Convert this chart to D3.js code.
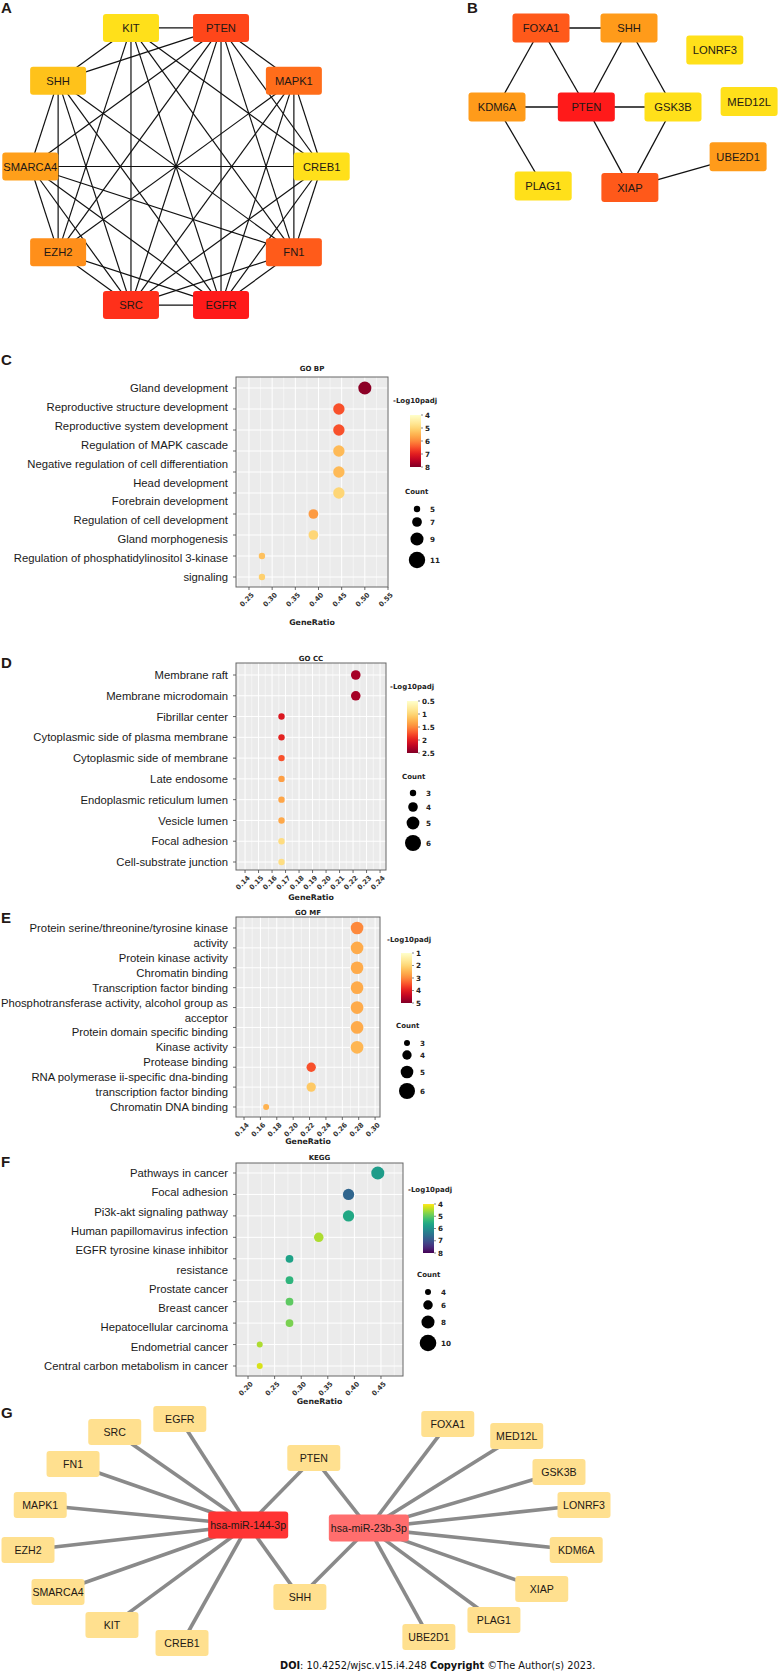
<!DOCTYPE html>
<html><head><meta charset="utf-8">
<script src="https://cdn.jsdelivr.net/npm/d3@7"></script>
<style>body{margin:0;background:#fff}svg{display:block}</style>
</head><body>
<svg id="fig" width="781" height="1675"></svg>
<script>
// ================= DATA =================
// Panel A – PPI hub network (clockwise from top-left)
const aGenes = ["KIT","PTEN","MAPK1","CREB1","FN1","EGFR","SRC","EZH2","SMARCA4","SHH"];
const aScore = [0, 7.8, 5.8, 0, 6.7, 10, 8.9, 4.1, 3.3, 1.5];
const aEdges = [
 ["KIT","PTEN"],["KIT","SHH"],["KIT","SRC"],["KIT","EGFR"],["KIT","FN1"],["KIT","CREB1"],["KIT","EZH2"],
 ["PTEN","SHH"],["PTEN","MAPK1"],["PTEN","CREB1"],["PTEN","FN1"],["PTEN","EGFR"],["PTEN","SRC"],["PTEN","EZH2"],["PTEN","SMARCA4"],
 ["MAPK1","CREB1"],["MAPK1","FN1"],["MAPK1","EGFR"],["MAPK1","SRC"],["MAPK1","EZH2"],
 ["CREB1","FN1"],["CREB1","EGFR"],["CREB1","SRC"],["CREB1","SMARCA4"],
 ["FN1","EGFR"],["FN1","SRC"],["FN1","SMARCA4"],["FN1","SHH"],
 ["EGFR","SRC"],["EGFR","EZH2"],["EGFR","SMARCA4"],["EGFR","SHH"],
 ["SRC","EZH2"],["SRC","SMARCA4"],["SRC","SHH"],
 ["EZH2","SMARCA4"],["EZH2","SHH"],["SMARCA4","SHH"]
];

// Panel B – network
const bGenes = ["FOXA1","SHH","LONRF3","KDM6A","PTEN","GSK3B","MED12L","UBE2D1","PLAG1","XIAP"];
const bScore = [6.8, 3.5, 0, 3.5, 10, 0, 0, 3.5, 0, 6.8];
const bEdges = [["FOXA1","SHH"],["FOXA1","KDM6A"],["FOXA1","PTEN"],["SHH","PTEN"],["SHH","GSK3B"],
 ["KDM6A","PTEN"],["PTEN","GSK3B"],["KDM6A","PLAG1"],["PTEN","XIAP"],["GSK3B","XIAP"],["XIAP","UBE2D1"]];

// Panel C – GO BP
const cTerms = [["Gland development"],["Reproductive structure development"],["Reproductive system development"],
 ["Regulation of MAPK cascade"],["Negative regulation of cell differentiation"],["Head development"],
 ["Forebrain development"],["Regulation of cell development"],["Gland morphogenesis"],
 ["Regulation of phosphatidylinositol 3-kinase","signaling"]];
const cRatio = [0.500,0.444,0.444,0.444,0.444,0.444,0.389,0.389,0.278,0.278];
const cCount = [9,8,8,8,8,8,7,7,5,5];
const cPadj  = [7.9,6.5,6.5,5.4,5.4,5.0,5.8,5.0,5.3,5.1];
const cTicks = [0.25,0.30,0.35,0.40,0.45,0.50,0.55];
const cColorTicks = [4,5,6,7,8];
const cSizeBreaks = [5,7,9,11];

// Panel D – GO CC
const dTerms = [["Membrane raft"],["Membrane microdomain"],["Fibrillar center"],["Cytoplasmic side of plasma membrane"],
 ["Cytoplasmic side of membrane"],["Late endosome"],["Endoplasmic reticulum lumen"],["Vesicle lumen"],
 ["Focal adhesion"],["Cell-substrate junction"]];
const dRatio = [0.222,0.222,0.167,0.167,0.167,0.167,0.167,0.167,0.167,0.167];
const dCount = [4,4,3,3,3,3,3,3,3,3];
const dPadj  = [2.34,2.34,2.05,1.98,1.75,1.38,1.34,1.32,0.94,0.92];
const dTicks = [0.14,0.15,0.16,0.17,0.18,0.19,0.20,0.21,0.22,0.23,0.24];
const dColorTicks = [0.5,1,1.5,2,2.5];
const dSizeBreaks = [3,4,5,6];

// Panel E – GO MF
const eTerms = [["Protein serine/threonine/tyrosine kinase","activity"],["Protein kinase activity"],["Chromatin binding"],
 ["Transcription factor binding"],["Phosphotransferase activity, alcohol group as","acceptor"],
 ["Protein domain specific binding"],["Kinase activity"],["Protease binding"],
 ["RNA polymerase ii-specific dna-binding","transcription factor binding"],["Chromatin DNA binding"]];
const eRatio = [0.278,0.278,0.278,0.278,0.278,0.278,0.278,0.222,0.222,0.167];
const eCount = [5,5,5,5,5,5,5,4,4,3];
const ePadj  = [3.0,2.6,2.6,2.6,2.6,2.6,2.45,3.5,2.2,2.5];
const eTicks = [0.14,0.16,0.18,0.20,0.22,0.24,0.26,0.28,0.30];
const eColorTicks = [1,2,3,4,5];
const eSizeBreaks = [3,4,5,6];

// Panel F – KEGG
const fTerms = [["Pathways in cancer"],["Focal adhesion"],["Pi3k-akt signaling pathway"],["Human papillomavirus infection"],
 ["EGFR tyrosine kinase inhibitor","resistance"],["Prostate cancer"],["Breast cancer"],["Hepatocellular carcinoma"],
 ["Endometrial cancer"],["Central carbon metabolism in cancer"]];
const fRatio = [0.444,0.389,0.389,0.333,0.278,0.278,0.278,0.278,0.222,0.222];
const fCount = [8,7,7,6,5,5,5,5,4,4];
const fPadj  = [5.8,6.7,5.6,4.5,5.7,5.4,5.0,4.8,4.5,4.25];
const fTicks = [0.20,0.25,0.30,0.35,0.40,0.45];
const fColorTicks = [4,5,6,7,8];
const fSizeBreaks = [4,6,8,10];

// Panel G – miRNA–mRNA network
const gMirs = ["hsa-miR-144-3p","hsa-miR-23b-3p"];
const gTargets = ["EGFR","SRC","FN1","PTEN","MAPK1","EZH2","SMARCA4","KIT","CREB1","SHH",
                  "FOXA1","MED12L","GSK3B","LONRF3","KDM6A","XIAP","PLAG1","UBE2D1"];
const gEdges = [
 ["hsa-miR-144-3p","EGFR"],["hsa-miR-144-3p","SRC"],["hsa-miR-144-3p","FN1"],["hsa-miR-144-3p","PTEN"],
 ["hsa-miR-144-3p","MAPK1"],["hsa-miR-144-3p","EZH2"],["hsa-miR-144-3p","SMARCA4"],["hsa-miR-144-3p","KIT"],
 ["hsa-miR-144-3p","CREB1"],["hsa-miR-144-3p","SHH"],
 ["hsa-miR-23b-3p","PTEN"],["hsa-miR-23b-3p","SHH"],["hsa-miR-23b-3p","FOXA1"],["hsa-miR-23b-3p","MED12L"],
 ["hsa-miR-23b-3p","GSK3B"],["hsa-miR-23b-3p","LONRF3"],["hsa-miR-23b-3p","KDM6A"],["hsa-miR-23b-3p","XIAP"],
 ["hsa-miR-23b-3p","PLAG1"],["hsa-miR-23b-3p","UBE2D1"]];

// ================= LAYOUT (abstract units) =================
const bLayout = {FOXA1:[1,0],SHH:[3,0],LONRF3:[4.95,0.28],KDM6A:[0,1],PTEN:[2.03,1],GSK3B:[4,1],
                 MED12L:[5.73,0.93],UBE2D1:[5.48,1.63],PLAG1:[1.05,2],XIAP:[3.02,2.02]};
const gLayout = {EGFR:[0.273,0],SRC:[0.156,0.058],FN1:[0.081,0.201],PTEN:[0.514,0.174],MAPK1:[0.022,0.384],
 EZH2:[0,0.585],SMARCA4:[0.054,0.772],KIT:[0.151,0.92],CREB1:[0.277,1],SHH:[0.489,0.795],
 "hsa-miR-144-3p":[0.396,0.473],"hsa-miR-23b-3p":[0.613,0.487],
 FOXA1:[0.755,0.022],MED12L:[0.879,0.076],GSK3B:[0.955,0.237],LONRF3:[1,0.384],KDM6A:[0.986,0.585],
 XIAP:[0.924,0.759],PLAG1:[0.838,0.897],UBE2D1:[0.721,0.973]};

// ================= DRAW =================
const svg = d3.select("#fig");
const SANS = "'Liberation Sans', Arial, sans-serif";
const BOLD = "'DejaVu Sans', 'Liberation Sans', sans-serif";

function panelLetter(t, x, y){
  svg.append("text").attr("x",x).attr("y",y).text(t)
    .attr("font-family",SANS).attr("font-weight","bold").attr("font-size",15).attr("fill","#231815");
}

const netColor = d3.scaleLinear().domain([0,10]).range(["#FFE01A","#FF1A1A"]).interpolate(d3.interpolateRgb);

function drawNodes(g, nodes, pos, w, h, fill, fs){
  const n = g.selectAll(null).data(nodes).join("g").attr("transform",d=>`translate(${pos(d)[0]},${pos(d)[1]})`);
  n.append("rect").attr("x",-w/2).attr("y",-h/2).attr("width",w).attr("height",h).attr("rx",3).attr("fill",fill);
  n.append("text").attr("text-anchor","middle").attr("dy","0.36em").text(d=>d)
    .attr("font-family",SANS).attr("font-size",fs).attr("fill","#231815");
}

// ---- Panel A
panelLetter("A",1,13);
{
  const g = svg.append("g");
  const ang = d3.scaleLinear().domain([0,aGenes.length]).range([-Math.PI/10, 2*Math.PI-Math.PI/10]);
  const cx=176, cy=166.5, r=145.7;
  const pos = name => { const i=aGenes.indexOf(name), a=ang(i); return [cx+r*Math.sin(a), cy-r*Math.cos(a)]; };
  g.selectAll("line").data(aEdges).join("line")
    .attr("x1",d=>pos(d[0])[0]).attr("y1",d=>pos(d[0])[1]).attr("x2",d=>pos(d[1])[0]).attr("y2",d=>pos(d[1])[1])
    .attr("stroke","#111").attr("stroke-width",1.2);
  drawNodes(g, aGenes, pos, 56, 28, d=>netColor(aScore[aGenes.indexOf(d)]), 11.2);
}

// ---- Panel B
panelLetter("B",467,13);
{
  const g = svg.append("g");
  const bx = d3.scaleLinear().domain([0,1]).range([497,541]);
  const by = d3.scaleLinear().domain([0,1]).range([28,107]);
  const pos = name => [bx(bLayout[name][0]), by(bLayout[name][1])];
  g.selectAll("line").data(bEdges).join("line")
    .attr("x1",d=>pos(d[0])[0]).attr("y1",d=>pos(d[0])[1]).attr("x2",d=>pos(d[1])[0]).attr("y2",d=>pos(d[1])[1])
    .attr("stroke","#111").attr("stroke-width",1.3);
  drawNodes(g, bGenes, pos, 57, 29, d=>netColor(bScore[bGenes.indexOf(d)]), 11.2);
}

// ---- Dot plot panels
let gradId = 0;
function dotPanel(o){
  const g = svg.append("g");
  const x = d3.scaleLinear().domain(o.xDomain).range([o.left,o.right]);
  const y = d3.scalePoint().domain(d3.range(o.terms.length)).range([o.dotTop,o.dotBottom]);
  const lines = o.terms.flat();
  const yl = d3.scalePoint().domain(d3.range(lines.length)).range([o.dotTop,o.dotBottom]);
  const rScale = d3.scaleLinear().domain(o.sizeDomain).range(o.sizeRange);
  const cScale = v => o.interp(o.colorT(v));
  g.append("rect").attr("x",o.left).attr("y",o.top).attr("width",o.right-o.left).attr("height",o.bottom-o.top).attr("fill","#EBEBEB");
  const step = o.ticks[1]-o.ticks[0];
  const minors = [];
  for(let v=o.ticks[0]-step/2; v<=o.xDomain[1]; v+=step) if(v>=o.xDomain[0]) minors.push(v);
  g.selectAll("line.minor").data(minors).join("line").attr("class","minor")
    .attr("x1",d=>x(d)).attr("x2",d=>x(d)).attr("y1",o.top).attr("y2",o.bottom).attr("stroke","#fff").attr("stroke-width",0.5);
  g.selectAll("line.majx").data(o.ticks).join("line").attr("class","majx")
    .attr("x1",d=>x(d)).attr("x2",d=>x(d)).attr("y1",o.top).attr("y2",o.bottom).attr("stroke","#fff").attr("stroke-width",1);
  g.selectAll("line.majy").data(d3.range(o.terms.length)).join("line").attr("class","majy")
    .attr("x1",o.left).attr("x2",o.right).attr("y1",d=>y(d)).attr("y2",d=>y(d)).attr("stroke","#fff").attr("stroke-width",1);
  g.selectAll("circle.pt").data(d3.range(o.terms.length)).join("circle").attr("class","pt")
    .attr("cx",i=>x(o.ratio[i])).attr("cy",i=>y(i)).attr("r",i=>rScale(o.count[i])).attr("fill",i=>cScale(o.padj[i]));
  g.append("rect").attr("x",o.left).attr("y",o.top).attr("width",o.right-o.left).attr("height",o.bottom-o.top)
    .attr("fill","none").attr("stroke","#666").attr("stroke-width",1);
  g.selectAll("line.yt").data(d3.range(o.terms.length)).join("line").attr("class","yt")
    .attr("x1",o.left-3).attr("x2",o.left).attr("y1",d=>y(d)).attr("y2",d=>y(d)).attr("stroke","#444").attr("stroke-width",0.8);
  g.selectAll("text.lab").data(lines).join("text").attr("class","lab")
    .attr("x",o.left-8).attr("y",(d,i)=>yl(i)).attr("dy","0.36em").attr("text-anchor","end").text(d=>d)
    .attr("font-family",SANS).attr("font-size",11.3).attr("fill","#1a1a1a");
  g.selectAll("line.xt").data(o.ticks).join("line").attr("class","xt")
    .attr("x1",d=>x(d)).attr("x2",d=>x(d)).attr("y1",o.bottom).attr("y2",o.bottom+3).attr("stroke","#444").attr("stroke-width",0.8);
  g.selectAll("text.xl").data(o.ticks).join("text").attr("class","xl")
    .attr("transform",d=>`translate(${x(d)+2},${o.bottom+5}) rotate(-45)`).attr("text-anchor","end").attr("dy","0.7em")
    .text(d=>d3.format(".2f")(d)).attr("font-family",BOLD).attr("font-weight","bold").attr("font-size",6.8).attr("fill","#333");
  const mid = (o.left+o.right)/2;
  g.append("text").attr("x",mid).attr("y",o.titleY).attr("text-anchor","middle").text(o.title)
    .attr("font-family",BOLD).attr("font-weight","bold").attr("font-size",7).attr("fill","#222");
  g.append("text").attr("x",mid).attr("y",o.xlabY).attr("text-anchor","middle").text("GeneRatio")
    .attr("font-family",BOLD).attr("font-weight","bold").attr("font-size",7.8).attr("fill","#222");
  const L = o.leg;
  g.append("text").attr("x",L.tx).attr("y",L.ty).text("-Log10padj")
    .attr("font-family",BOLD).attr("font-weight","bold").attr("font-size",7).attr("fill","#222");
  const id = "grad"+(gradId++);
  const grad = svg.append("defs").append("linearGradient").attr("id",id).attr("x1",0).attr("x2",0).attr("y1",0).attr("y2",1);
  const cd = o.colorTicks;
  d3.range(0,1.0001,0.05).forEach(t=>{
    grad.append("stop").attr("offset",t).attr("stop-color",cScale(cd[0]+t*(cd[cd.length-1]-cd[0])));
  });
  const cy = d3.scaleLinear().domain([cd[0],cd[cd.length-1]]).range([L.by0,L.by1]);
  g.append("rect").attr("x",L.bx).attr("y",L.by0).attr("width",11).attr("height",L.by1-L.by0).attr("fill",`url(#${id})`);
  g.selectAll("line.ct").data(cd).join("line").attr("class","ct")
    .attr("x1",L.bx+11).attr("x2",L.bx+13).attr("y1",d=>cy(d)).attr("y2",d=>cy(d)).attr("stroke","#555").attr("stroke-width",0.7);
  g.selectAll("text.cl").data(cd).join("text").attr("class","cl")
    .attr("x",L.bx+15).attr("y",d=>cy(d)).attr("dy","0.36em").text(d=>d)
    .attr("font-family",BOLD).attr("font-weight","bold").attr("font-size",7.2).attr("fill","#222");
  g.append("text").attr("x",L.sx).attr("y",L.sy).text("Count")
    .attr("font-family",BOLD).attr("font-weight","bold").attr("font-size",7).attr("fill","#222");
  g.selectAll("circle.sl").data(o.sizeBreaks).join("circle").attr("class","sl")
    .attr("cx",L.dx).attr("cy",(d,i)=>L.dy[i]).attr("r",d=>rScale(d)).attr("fill","#000");
  g.selectAll("text.sl").data(o.sizeBreaks).join("text").attr("class","sl")
    .attr("x",L.dx+13).attr("y",(d,i)=>L.dy[i]).attr("dy","0.36em").text(d=>d)
    .attr("font-family",BOLD).attr("font-weight","bold").attr("font-size",7.2).attr("fill","#222");
}

const ylorrd = d3.interpolateYlOrRd;

panelLetter("C",1,365);
dotPanel({terms:cTerms, ratio:cRatio, count:cCount, padj:cPadj, ticks:cTicks, colorTicks:cColorTicks, sizeBreaks:cSizeBreaks,
  title:"GO BP", xDomain:[0.222,0.55], left:236, right:388, top:377, bottom:587, dotTop:388, dotBottom:577,
  titleY:371, xlabY:625, interp:ylorrd, colorT:v=>(v-4)/4, sizeDomain:[5,11], sizeRange:[3.2,8.2],
  leg:{tx:393,ty:403,bx:410,by0:415,by1:467,sx:405,sy:494,dx:417,dy:[509,522,539,560]}});

panelLetter("D",1,668);
dotPanel({terms:dTerms, ratio:dRatio, count:dCount, padj:dPadj, ticks:dTicks, colorTicks:dColorTicks, sizeBreaks:dSizeBreaks,
  title:"GO CC", xDomain:[0.1333,0.2444], left:236, right:386, top:663, bottom:870, dotTop:675, dotBottom:862,
  titleY:661, xlabY:900, interp:ylorrd, colorT:v=>(v-0.5)/2, sizeDomain:[3,6], sizeRange:[3.2,8],
  leg:{tx:390,ty:689,bx:407,by0:701,by1:753,sx:402,sy:779,dx:413,dy:[793,807,823,843]}});

panelLetter("E",1,923);
dotPanel({terms:eTerms, ratio:eRatio, count:eCount, padj:ePadj, ticks:eTicks, colorTicks:eColorTicks, sizeBreaks:eSizeBreaks,
  title:"GO MF", xDomain:[0.1302,0.306], left:236, right:380, top:917, bottom:1117, dotTop:928, dotBottom:1107,
  titleY:915, xlabY:1144, interp:ylorrd, colorT:v=>(v-1)/4, sizeDomain:[3,6], sizeRange:[3,8],
  leg:{tx:387,ty:942,bx:401,by0:953,by1:1003,sx:396,sy:1028,dx:407,dy:[1043,1055,1072,1091]}});

panelLetter("F",1,1167);
dotPanel({terms:fTerms, ratio:fRatio, count:fCount, padj:fPadj, ticks:fTicks, colorTicks:fColorTicks, sizeBreaks:fSizeBreaks,
  title:"KEGG", xDomain:[0.1774,0.4914], left:236, right:403, top:1163, bottom:1376, dotTop:1173, dotBottom:1366,
  titleY:1160, xlabY:1404, interp:d3.interpolateViridis, colorT:v=>1-(v-4)/4, sizeDomain:[4,10], sizeRange:[3,8.3],
  leg:{tx:408,ty:1192,bx:423,by0:1204,by1:1253,sx:417,sy:1277,dx:428,dy:[1292,1305,1322,1343]}});

// ---- Panel G
panelLetter("G",1,1418);
{
  const g = svg.append("g");
  const gx = d3.scaleLinear().domain([0,1]).range([28,584]);
  const gy = d3.scaleLinear().domain([0,1]).range([1419,1643]);
  const pos = name => [gx(gLayout[name][0]), gy(gLayout[name][1])];
  g.selectAll("line").data(gEdges).join("line")
    .attr("x1",d=>pos(d[0])[0]).attr("y1",d=>pos(d[0])[1]).attr("x2",d=>pos(d[1])[0]).attr("y2",d=>pos(d[1])[1])
    .attr("stroke","#8a8a8a").attr("stroke-width",3.6);
  drawNodes(g, gTargets, pos, 53, 26, "#FFE08F", 10.6);
  const mirFill = ["#FF3434","#FF6E6E"];
  drawNodes(g, gMirs, pos, 80, 27, d=>mirFill[gMirs.indexOf(d)], 10.6);
}

// ---- Footer
{
  const t = svg.append("text").attr("x",280).attr("y",1669).attr("font-family","'DejaVu Sans', Verdana, sans-serif")
    .attr("font-size",9.8).attr("fill","#111");
  t.append("tspan").attr("font-weight","bold").text("DOI");
  t.append("tspan").text(": 10.4252/wjsc.v15.i4.248 ");
  t.append("tspan").attr("font-weight","bold").text("Copyright");
  t.append("tspan").text(" ©The Author(s) 2023.");
}
</script>
</body></html>
